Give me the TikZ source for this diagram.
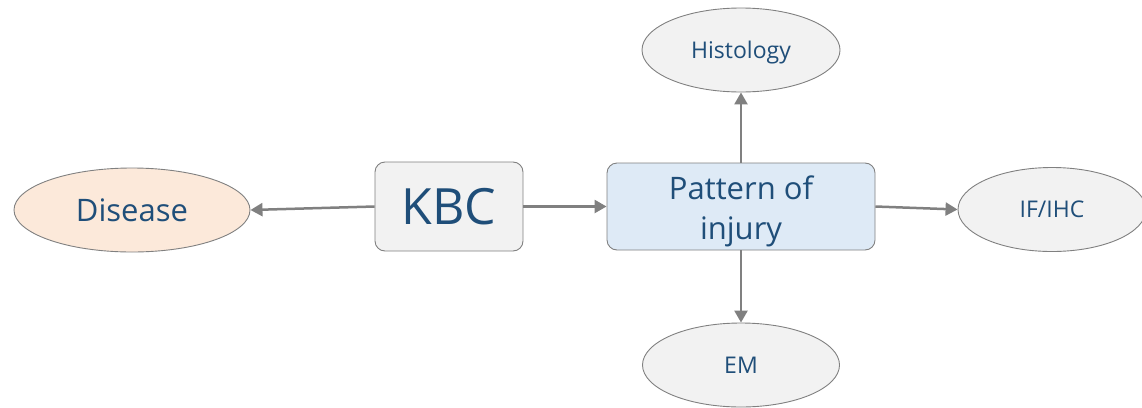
\documentclass[tikz,border=0pt]{standalone}
\usepackage{fontspec}
\setmainfont{Open Sans}
\usetikzlibrary{shapes.geometric,arrows.meta}
\definecolor{txtblue}{HTML}{1F4E79}
\definecolor{edgegray}{HTML}{808080}
\definecolor{boxgray}{HTML}{F2F2F2}
\definecolor{boxblue}{HTML}{DEEAF6}
\definecolor{peach}{HTML}{FCE9DA}
\tikzset{
  oval/.style={ellipse, draw=edgegray, line width=0.9pt, fill=boxgray,
    text=txtblue, inner sep=0pt, minimum height=84pt},
  small/.style={font=\fontsize{23}{26}\selectfont, text height=16pt, text depth=0pt},
  rbox/.style={rectangle, rounded corners=10pt, draw=edgegray, line width=0.9pt,
    text=txtblue, inner sep=0pt, align=center},
  link/.style={draw=edgegray, line width=2.5pt,
    -{Triangle[length=12pt,width=13pt]}}
}
\begin{document}
\begin{tikzpicture}[x=1pt,y=-1pt]
\useasboundingbox (0,0) rectangle (1142,407);
% central boxes
\node[rbox, fill=boxgray, minimum width=148pt, minimum height=89pt,
  font=\fontsize{50}{54}\selectfont] (kbc) at (449,206.5) {KBC};
\node[rbox, fill=boxblue, minimum width=268pt, minimum height=87pt,
  font=\fontsize{31}{38}\selectfont] (pat) at (741,206.5) {\rule{0pt}{33pt}Pattern of\\[2pt]injury};
% outcome ovals
\node[oval, fill=peach, minimum width=236pt,
  font=\fontsize{31}{36}\selectfont] (dis) at (132,210) {Disease};
\node[oval, small, minimum width=198pt] (his) at (741,50) {Histology};
\node[oval, small, minimum width=197pt] (em) at (741,365) {EM};
\node[oval, small, minimum width=188pt] (ifi) at (1052,209.5) {IF/IHC};
% connectors
\draw[link] (kbc.west) -- (dis.east);
\draw[link] (kbc.east) -- (pat.west);
\draw[link] (pat.north) -- (his.south);
\draw[link] (pat.south) -- (em.north);
\draw[link] (pat.east) -- (ifi.west);
\end{tikzpicture}
\end{document}
